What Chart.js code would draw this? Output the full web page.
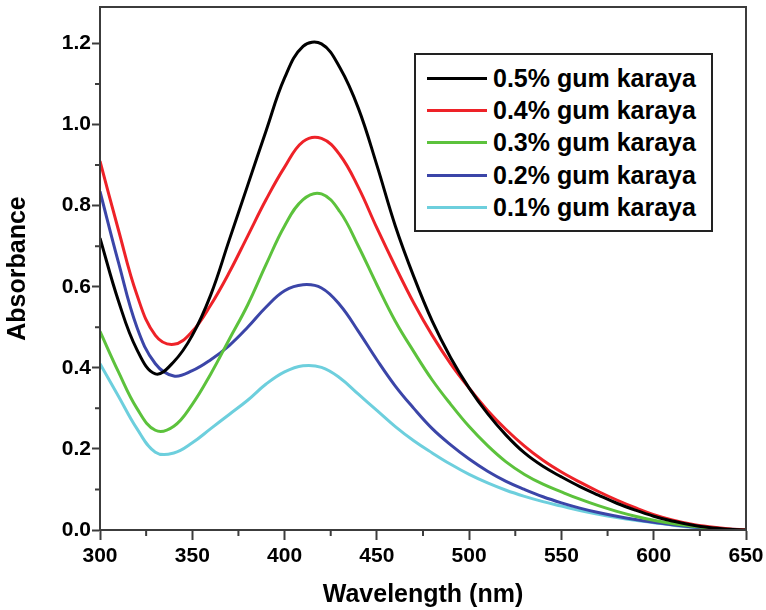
<!DOCTYPE html>
<html>
<head>
<meta charset="utf-8">
<title>Absorbance vs wavelength</title>
<script src="https://cdn.jsdelivr.net/npm/chart.js@4.4.0/dist/chart.umd.min.js"></script>
<style>
  html, body { margin: 0; padding: 0; background: #fff; }
  #wrap { position: relative; width: 766px; height: 610px; }
  #legend {
    position: absolute; left: 414px; top: 53px;
    width: 299px; height: 179px; box-sizing: border-box;
    border: 2px solid #222; background: #fff; padding-top: 7px;
    font: bold 25px "Liberation Sans", Arial, sans-serif; color: #000;
  }
  .row { display: flex; align-items: center; height: 32.3px; white-space: nowrap; }
  .swatch { width: 60px; height: 3px; margin-left: 11px; margin-right: 6px; }
</style>
</head>
<body>
<div id="wrap">
  <canvas id="uvChart" width="766" height="610"></canvas>
  <div id="legend"></div>
</div>
<script>
// wavelength (nm)
const wavelengths = [300, 310, 320, 330, 340, 350, 360, 370, 380, 390, 400, 410, 420,
  430, 440, 450, 460, 470, 480, 490, 500, 510, 520, 530, 540, 550, 560, 570, 580, 590, 600,
  610, 620, 630, 640, 650];

// absorbance for each gum karaya concentration
const gk05 = [0.72, 0.565, 0.445, 0.385, 0.415, 0.48, 0.58, 0.715, 0.85, 0.985, 1.115, 1.193, 1.199,
  1.14, 1.04, 0.90, 0.75, 0.625, 0.515, 0.425, 0.35, 0.287, 0.234, 0.19, 0.157, 0.131, 0.107, 0.086,
  0.066, 0.049, 0.034, 0.022, 0.013, 0.006, 0.002, 0];
const gk04 = [0.91, 0.74, 0.58, 0.48, 0.458, 0.49, 0.555, 0.635, 0.725, 0.815, 0.895, 0.958, 0.966,
  0.925, 0.845, 0.745, 0.65, 0.56, 0.48, 0.41, 0.35, 0.295, 0.248, 0.207, 0.172, 0.143, 0.118, 0.095,
  0.074, 0.055, 0.038, 0.025, 0.015, 0.008, 0.003, 0];
const gk03 = [0.49, 0.39, 0.30, 0.246, 0.256, 0.31, 0.385, 0.47, 0.555, 0.655, 0.75, 0.815, 0.829,
  0.785, 0.70, 0.605, 0.515, 0.44, 0.37, 0.31, 0.255, 0.208, 0.168, 0.137, 0.113, 0.094, 0.076, 0.06,
  0.046, 0.034, 0.024, 0.016, 0.01, 0.005, 0.002, 0];
const gk02 = [0.835, 0.66, 0.50, 0.41, 0.38, 0.393, 0.42, 0.455, 0.50, 0.55, 0.59, 0.605, 0.597,
  0.555, 0.49, 0.42, 0.355, 0.30, 0.25, 0.21, 0.175, 0.145, 0.12, 0.10, 0.082, 0.067, 0.054, 0.043,
  0.034, 0.026, 0.019, 0.013, 0.008, 0.004, 0.002, 0];
const gk01 = [0.41, 0.33, 0.25, 0.192, 0.19, 0.215, 0.25, 0.285, 0.32, 0.36, 0.39, 0.405, 0.401,
  0.375, 0.335, 0.295, 0.255, 0.22, 0.19, 0.162, 0.137, 0.116, 0.098, 0.083, 0.07, 0.059, 0.048, 0.039,
  0.031, 0.024, 0.018, 0.012, 0.007, 0.004, 0.002, 0];

const seriesNames = ['0.5% gum karaya', '0.4% gum karaya', '0.3% gum karaya', '0.2% gum karaya', '0.1% gum karaya'];
const seriesValues = [gk05, gk04, gk03, gk02, gk01];
const seriesColors = ['#000000', '#ee2228', '#5cc23c', '#3b45a8', '#6dcfdd'];

// unlabelled minor tick positions
const minorX = [325, 375, 425, 475, 525, 575, 625];
const minorY = [0.1, 0.3, 0.5, 0.7, 0.9, 1.1];

const axisColor = '#3c3c3c';
const fontFamily = '"Liberation Sans", Arial, sans-serif';

Chart.defaults.font.family = fontFamily;
Chart.defaults.font.weight = 'bold';
Chart.defaults.color = '#000';

// box round the plot plus the short minor ticks
const framePlugin = {
  id: 'frame',
  afterDraw(chart) {
    const { ctx, chartArea: a, scales: { x, y } } = chart;
    ctx.save();
    ctx.strokeStyle = axisColor;
    ctx.lineWidth = 2;
    ctx.strokeRect(a.left, a.top, a.right - a.left, a.bottom - a.top);
    ctx.beginPath();
    minorX.forEach(v => {
      const px = x.getPixelForValue(v);
      ctx.moveTo(px, a.bottom);
      ctx.lineTo(px, a.bottom + 6);
    });
    minorY.forEach(v => {
      const py = y.getPixelForValue(v);
      ctx.moveTo(a.left, py);
      ctx.lineTo(a.left - 5, py);
    });
    ctx.stroke();
    ctx.restore();
  }
};

const datasets = seriesValues.map((vals, i) => ({
  label: seriesNames[i],
  data: wavelengths.map((w, j) => ({ x: w, y: vals[j] })),
  borderColor: seriesColors[i],
  backgroundColor: seriesColors[i],
  borderWidth: 3,
  pointRadius: 0,
  tension: 0.4,
  fill: false
}));

const chart = new Chart(document.getElementById('uvChart').getContext('2d'), {
  type: 'line',
  data: { datasets: datasets },
  options: {
    responsive: false,
    animation: false,
    layout: { padding: { left: 0, right: 20, top: 7, bottom: 0 } },
    plugins: {
      legend: { display: false },
      tooltip: { enabled: false }
    },
    scales: {
      x: {
        type: 'linear',
        min: 300,
        max: 650,
        grid: { drawOnChartArea: false, tickLength: 10, tickWidth: 2, tickColor: axisColor },
        border: { color: axisColor, width: 2 },
        ticks: { stepSize: 50, padding: 4, font: { size: 21, weight: 'bold' } },
        title: {
          display: true,
          text: 'Wavelength (nm)',
          font: { size: 25, weight: 'bold' },
          padding: { top: 0, bottom: 0 }
        },
        afterFit(scale) {
          scale.height = 80;
          scale.paddingLeft = 0;
          scale.paddingRight = 0;
        }
      },
      y: {
        min: 0,
        max: 1.29,
        grid: { drawOnChartArea: false, tickLength: 8, tickWidth: 2, tickColor: axisColor },
        border: { color: axisColor, width: 2 },
        ticks: {
          stepSize: 0.2,
          includeBounds: false,
          padding: 1,
          font: { size: 21, weight: 'bold' },
          callback: v => v.toFixed(1)
        },
        title: {
          display: true,
          text: 'Absorbance',
          font: { size: 25, weight: 'bold' },
          padding: { top: 3, bottom: 0 }
        },
        afterFit(scale) {
          scale.width = 100;
          scale.paddingTop = 0;
          scale.paddingBottom = 0;
        }
      }
    }
  },
  plugins: [framePlugin]
});

// legend built from the chart's own datasets
const legendEl = document.getElementById('legend');
chart.data.datasets.forEach(ds => {
  const row = document.createElement('div');
  row.className = 'row';
  const sw = document.createElement('span');
  sw.className = 'swatch';
  sw.style.background = ds.borderColor;
  const txt = document.createElement('span');
  txt.textContent = ds.label;
  row.appendChild(sw);
  row.appendChild(txt);
  legendEl.appendChild(row);
});
</script>
</body>
</html>
